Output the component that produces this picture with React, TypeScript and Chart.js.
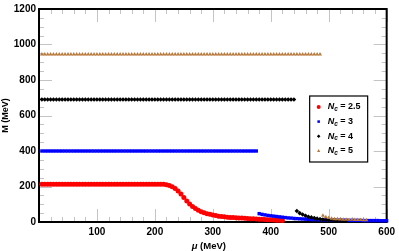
import { useEffect, useRef } from 'react';
import { Chart, registerables } from 'chart.js';

Chart.register(...registerables);

const FONT = '"Liberation Sans", Arial, Helvetica, sans-serif';

// chemical potential grid (MeV)
const muGrid = [
  5, 10, 15, 20, 25, 30, 35, 40, 45, 50,
  55, 60, 65, 70, 75, 80, 85, 90, 95, 100,
  105, 110, 115, 120, 125, 130, 135, 140, 145, 150,
  155, 160, 165, 170, 175, 180, 185, 190, 195, 200,
  205, 210, 215, 220, 225, 230, 235, 240, 245, 250,
  255, 260, 265, 270, 275, 280, 285, 290, 295, 300,
  305, 310, 315, 320, 325, 330, 335, 340, 345, 350,
  355, 360, 365, 370, 375, 380, 385, 390, 395, 400,
  405, 410, 415, 420, 425, 430, 435, 440, 445, 450,
  455, 460, 465, 470, 475, 480, 485, 490, 495, 500,
  505, 510, 515, 520, 525, 530, 535, 540, 545, 550,
  555, 560, 565, 570, 575, 580, 585, 590, 595, 600,
];

// M (MeV), Nc = 2.5
const mNc25 = [
  213, 213, 213, 213, 213, 213, 213, 213, 213, 213,
  213, 213, 213, 213, 213, 213, 213, 213, 213, 213,
  213, 213, 213, 213, 213, 213, 213, 213, 213, 213,
  213, 213, 213, 213, 213, 213, 213, 213, 213, 213,
  213, 213, 212, 210, 206, 199, 189, 175, 158, 138,
  119, 102, 88, 76, 66, 58, 52, 47, 43, 39,
  36, 33, 31, 29, 27, 26, 25, 24, 23, 22,
  21, 20, 19, 18, 17, 16, 15, 14, 13, 12,
  11, 10, 10, 9,
];

// M (MeV), Nc = 3
const mNc3 = [
  400, 400, 400, 400, 400, 400, 400, 400, 400, 400,
  400, 400, 400, 400, 400, 400, 400, 400, 400, 400,
  400, 400, 400, 400, 400, 400, 400, 400, 400, 400,
  400, 400, 400, 400, 400, 400, 400, 400, 400, 400,
  400, 400, 400, 400, 400, 400, 400, 400, 400, 400,
  400, 400, 400, 400, 400, 400, 400, 400, 400, 400,
  400, 400, 400, 400, 400, 400, 400, 400, 400, 400,
  400, 400, 400, 400, 400, 47, 43, 40, 37, 35,
  33, 31, 29, 27, 25, 23, 22, 20, 19, 18,
  17, 16, 15, 14, 14, 13, 13, 12, 12, 11,
  11, 11, 10, 10, 10, 10, 9, 9, 9, 9,
  9, 8, 8, 8, 8, 8, 8, 7, 7, 7,
];

// M (MeV), Nc = 4
const mNc4 = [
  690, 690, 690, 690, 690, 690, 690, 690, 690, 690,
  690, 690, 690, 690, 690, 690, 690, 690, 690, 690,
  690, 690, 690, 690, 690, 690, 690, 690, 690, 690,
  690, 690, 690, 690, 690, 690, 690, 690, 690, 690,
  690, 690, 690, 690, 690, 690, 690, 690, 690, 690,
  690, 690, 690, 690, 690, 690, 690, 690, 690, 690,
  690, 690, 690, 690, 690, 690, 690, 690, 690, 690,
  690, 690, 690, 690, 690, 690, 690, 690, 690, 690,
  690, 690, 690, 690, 690, 690, 690, 690, 62, 50,
  42, 35, 30, 26, 22, 19, 16, 14, 12, 11,
  10, 9, 8, 8, 7, 7,
];

// M (MeV), Nc = 5
const mNc5 = [
  945, 945, 945, 945, 945, 945, 945, 945, 945, 945,
  945, 945, 945, 945, 945, 945, 945, 945, 945, 945,
  945, 945, 945, 945, 945, 945, 945, 945, 945, 945,
  945, 945, 945, 945, 945, 945, 945, 945, 945, 945,
  945, 945, 945, 945, 945, 945, 945, 945, 945, 945,
  945, 945, 945, 945, 945, 945, 945, 945, 945, 945,
  945, 945, 945, 945, 945, 945, 945, 945, 945, 945,
  945, 945, 945, 945, 945, 945, 945, 945, 945, 945,
  945, 945, 945, 945, 945, 945, 945, 945, 945, 945,
  945, 945, 945, 945, 945, 945, 945, 36, 28, 23,
  19, 17, 16, 15, 14, 14, 13, 13, 12, 12,
  12, 11, 11,
];

const ncLabels = ['2.5', '3', '4', '5'];
const seriesColors = ['#ff0000', '#0000ff', '#000000', '#b97a3e'];
const pointStyles = ['circle', 'rect', 'rectRot', 'triangle'];
const pointRadii = [2.5, 2.4, 2.3, 2.3];

const xTickLabels = [100, 200, 300, 400, 500, 600];
const yTickLabels = [0, 200, 400, 600, 800, 1000, 1200];

function drawMarker(ctx: CanvasRenderingContext2D, style: string, x: number, y: number, r: number) {
  ctx.beginPath();
  if (style === 'circle') {
    ctx.arc(x, y, r, 0, Math.PI * 2);
  } else if (style === 'rect') {
    const s = r * Math.SQRT1_2;
    ctx.rect(x - s, y - s, 2 * s, 2 * s);
  } else if (style === 'rectRot') {
    ctx.moveTo(x, y - r);
    ctx.lineTo(x + r, y);
    ctx.lineTo(x, y + r);
    ctx.lineTo(x - r, y);
    ctx.closePath();
  } else {
    ctx.moveTo(x, y - r);
    ctx.lineTo(x + r * 0.9, y + r * 0.6);
    ctx.lineTo(x - r * 0.9, y + r * 0.6);
    ctx.closePath();
  }
  ctx.fill();
}

const framePlugin = {
  id: 'framePlugin',
  beforeDatasetsDraw(chart: any) {
    const { ctx, chartArea: a, scales } = chart;
    const xs = scales.x;
    const ys = scales.y;
    ctx.save();
    ctx.strokeStyle = '#c4c4c4';
    ctx.lineWidth = 1;
    ctx.beginPath();
    for (let v = 0; v <= 600; v += 20) {
      const px = Math.round(xs.getPixelForValue(v)) + 0.5;
      const len = v % 100 === 0 ? 13 : 5;
      ctx.moveTo(px, a.bottom);
      ctx.lineTo(px, a.bottom - len);
      ctx.moveTo(px, a.top);
      ctx.lineTo(px, a.top + len);
    }
    for (let v = 0; v <= 1200; v += 50) {
      const py = Math.round(ys.getPixelForValue(v)) + 0.5;
      const len = v % 200 === 0 ? 13 : 5;
      ctx.moveTo(a.left, py);
      ctx.lineTo(a.left + len, py);
      ctx.moveTo(a.right, py);
      ctx.lineTo(a.right - len, py);
    }
    ctx.stroke();
    ctx.strokeStyle = '#000';
    ctx.lineWidth = 2;
    ctx.strokeRect(a.left, a.top, a.right - a.left, a.bottom - a.top);
    ctx.restore();
  },
  afterDraw(chart: any) {
    const { ctx, chartArea: a } = chart;
    ctx.save();
    ctx.fillStyle = '#000';
    ctx.textBaseline = 'middle';

    // y-axis title
    ctx.save();
    ctx.translate(6, (a.top + a.bottom) / 2);
    ctx.rotate(-Math.PI / 2);
    ctx.font = `bold 9px ${FONT}`;
    ctx.textAlign = 'center';
    ctx.fillText('M (MeV)', 0, 0);
    ctx.restore();

    // x-axis title
    ctx.textAlign = 'left';
    const muFont = `italic bold 9.5px ${FONT}`;
    const restFont = `bold 9.5px ${FONT}`;
    ctx.font = muFont;
    const wMu = ctx.measureText('μ').width;
    ctx.font = restFont;
    const wRest = ctx.measureText(' (MeV)').width;
    const cx = (a.left + a.right) / 2 - 4;
    const sx = cx - (wMu + wRest) / 2;
    const ty = 246;
    ctx.font = muFont;
    ctx.fillText('μ', sx, ty);
    ctx.font = restFont;
    ctx.fillText(' (MeV)', sx + wMu, ty);

    // legend
    const bx = a.right - 77;
    const by = a.top + 87;
    const bw = 58;
    const bh = 66;
    ctx.fillStyle = '#fff';
    ctx.fillRect(bx, by, bw, bh);
    ctx.strokeStyle = '#000';
    ctx.lineWidth = 1.2;
    ctx.strokeRect(bx, by, bw, bh);
    for (let i = 0; i < ncLabels.length; i++) {
      const ry = by + 11 + i * 14.6;
      ctx.fillStyle = seriesColors[i];
      drawMarker(ctx, pointStyles[i], bx + 9, ry, i === 0 ? 2 : 1.8);
      ctx.fillStyle = '#000';
      let tx = bx + 18;
      ctx.font = `italic bold 9px ${FONT}`;
      ctx.fillText('N', tx, ry);
      tx += ctx.measureText('N').width;
      ctx.font = `italic bold 6.5px ${FONT}`;
      ctx.fillText('c', tx, ry + 2.5);
      tx += ctx.measureText('c').width;
      ctx.font = `bold 9px ${FONT}`;
      ctx.fillText(' = ' + ncLabels[i], tx, ry);
    }
    ctx.restore();
  },
};

export default function App() {
  const ref = useRef<HTMLCanvasElement>(null);
  useEffect(() => {
    document.body.style.margin = '0';
    const series = [mNc25, mNc3, mNc4, mNc5];
    const datasets = series.map((m, i) => ({
      label: 'Nc = ' + ncLabels[i],
      data: m.map((v, j) => ({ x: muGrid[j], y: v })),
      showLine: false,
      pointStyle: pointStyles[i],
      pointRadius: pointRadii[i],
      pointHoverRadius: pointRadii[i],
      pointBackgroundColor: seriesColors[i],
      pointBorderColor: seriesColors[i],
      pointBorderWidth: 0,
      backgroundColor: seriesColors[i],
      borderColor: seriesColors[i],
      order: series.length - 1 - i,
      clip: false as any,
    }));
    const chart = new Chart(ref.current!, {
      type: 'scatter',
      data: { datasets },
      plugins: [framePlugin],
      options: {
        animation: false,
        responsive: false,
        devicePixelRatio: 1,
        layout: { padding: { top: 5, right: 9, left: 0, bottom: 0 } },
        plugins: { legend: { display: false }, tooltip: { enabled: false } },
        scales: {
          x: {
            type: 'linear',
            min: 0,
            max: 600,
            grid: { display: false, drawTicks: false },
            border: { display: false },
            afterBuildTicks: (s: any) => {
              s.ticks = [0, ...xTickLabels].map((v) => ({ value: v }));
            },
            ticks: {
              padding: 4,
              color: '#000',
              maxRotation: 0,
              autoSkip: false,
              font: { family: FONT, size: 10, weight: 'bold' },
              callback: (v: any) => (v === 0 ? '' : String(v)),
            },
            afterFit: (s: any) => {
              s.height = 29;
            },
          },
          y: {
            type: 'linear',
            min: 0,
            max: 1200,
            grid: { display: false, drawTicks: false },
            border: { display: false },
            afterBuildTicks: (s: any) => {
              s.ticks = yTickLabels.map((v) => ({ value: v }));
            },
            ticks: {
              padding: 3,
              color: '#000',
              autoSkip: false,
              font: { family: FONT, size: 10, weight: 'bold' },
              callback: (v: any) => String(v),
            },
            afterFit: (s: any) => {
              s.width = 39;
            },
          },
        },
      } as any,
    });
    return () => chart.destroy();
  }, []);
  return (
    <div style={{ width: 399, height: 251 }}>
      <canvas ref={ref} width={399} height={251} style={{ display: 'block' }} />
    </div>
  );
}
